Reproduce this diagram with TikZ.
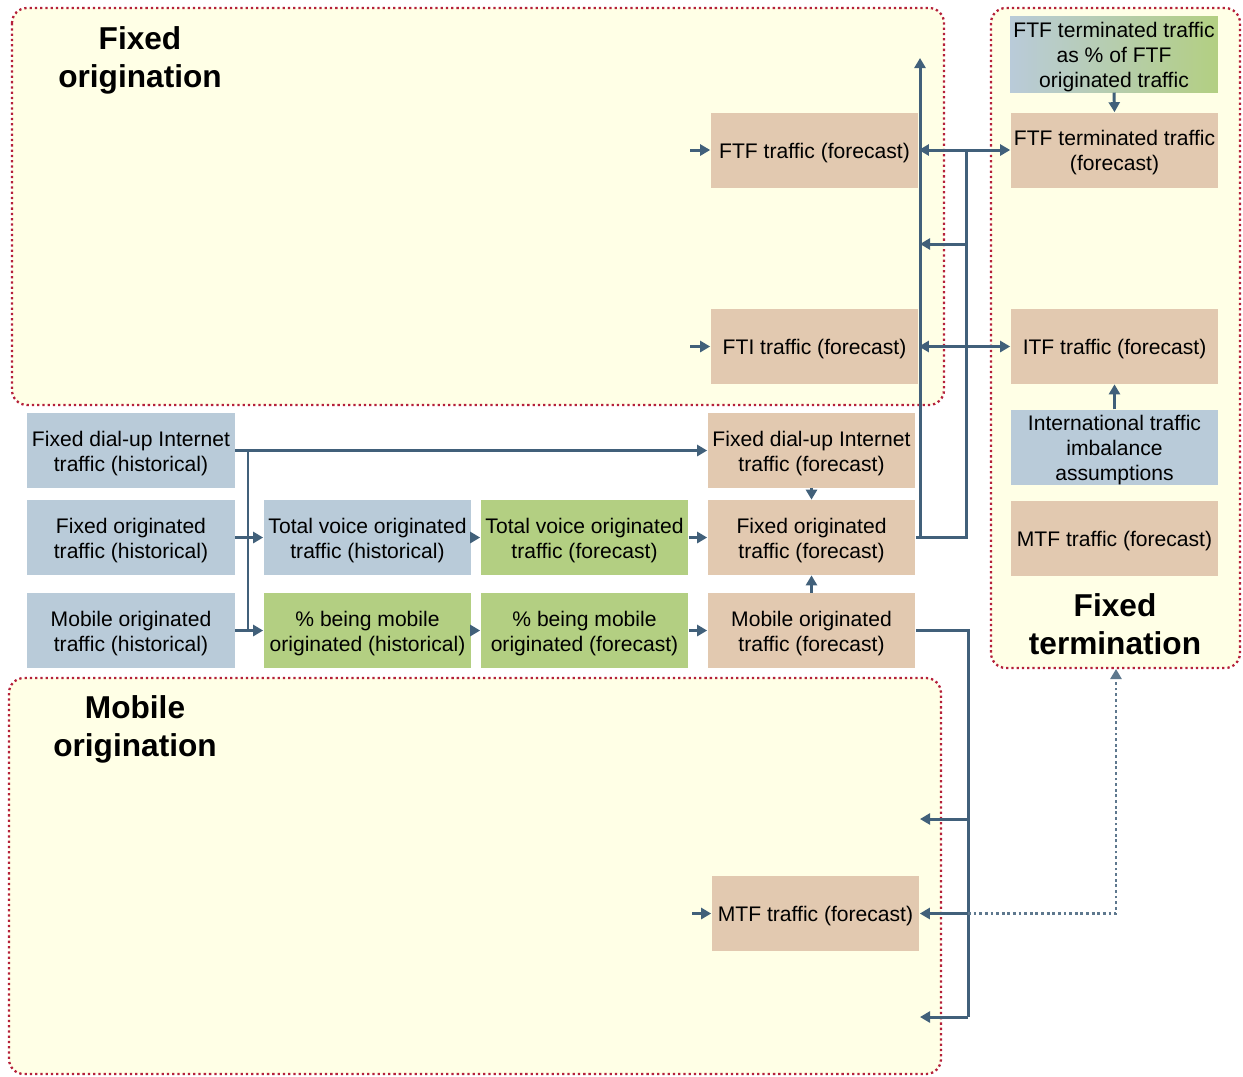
\documentclass[tikz,border=0pt]{standalone}
\usepackage{fontspec}
\setmainfont{Liberation Sans}
\usetikzlibrary{arrows.meta}

\definecolor{regionfill}{HTML}{FFFFE6}
\definecolor{regionline}{HTML}{B5203A}
\definecolor{histblue}{HTML}{B9CBD9}
\definecolor{assumgreen}{HTML}{B3CF82}
\definecolor{forecasttan}{HTML}{E2C9B0}
\definecolor{linkcol}{HTML}{41607A}

% strut that gives the first text line a taller ascent
\newcommand{\tstrut}{\rule{0pt}{1.0em}}

\tikzset{
  region/.style={fill=regionfill, draw=regionline, line width=1.3pt,
    dash pattern=on 1.3pt off 1.7pt, rounded corners=0.3cm},
  title/.style={font=\fontsize{18}{21.6}\selectfont\bfseries, align=center},
  box/.style={minimum width=4.16cm, minimum height=1.5cm, inner sep=0pt,
    align=center, font=\fontsize{12}{14.2}\selectfont},
  histbox/.style={box, fill=histblue},
  greenbox/.style={box, fill=assumgreen},
  tanbox/.style={box, fill=forecasttan},
  gradbox/.style={box, left color=histblue, right color=assumgreen},
  link/.style={draw=linkcol, line width=1.7pt},
  conn/.style={link, -{Triangle[length=2mm,width=2.2mm]}},
  dotconn/.style={draw=linkcol!85!white, line width=1.6pt, dash pattern=on 1.6pt off 1.6pt,
    -{Triangle[length=2mm,width=2.2mm]}}
}

\begin{document}
\begin{tikzpicture}[x=0.02cm, y=-0.02cm]
\useasboundingbox (0,0) rectangle (1243,1076);

% grouping regions
\draw[region] (12,8) rectangle (944,405);
\draw[region] (991,8) rectangle (1240,668);
\draw[region] (9,678) rectangle (941,1074);

\node[title] (tfo) at (140,60) {Fixed\\origination};
\node[title] (tft) at (1115,624) {Fixed\\termination};
\node[title] (tmo) at (135,729) {Mobile\\origination};

% historical inputs
\node[histbox] (fdh) at (131,450.5) {\tstrut Fixed dial-up Internet\\traffic (historical)};
\node[histbox] (foh) at (131,537.5) {\tstrut Fixed originated\\traffic (historical)};
\node[histbox] (moh) at (131,630.5) {\tstrut Mobile originated\\traffic (historical)};
\node[histbox] (tvh) at (367.5,537.5) {\tstrut Total voice originated\\traffic (historical)};
\node[greenbox] (pmh) at (367.5,630.5) {\tstrut\% being mobile\\originated (historical)};
\node[greenbox] (tvf) at (584.5,537.5) {\tstrut Total voice originated\\traffic (forecast)};
\node[greenbox] (pmf) at (584.5,630.5) {\tstrut\% being mobile\\originated (forecast)};

% forecasts
\node[tanbox] (fdf) at (811.5,450.5) {\tstrut Fixed dial-up Internet\\traffic (forecast)};
\node[tanbox] (fof) at (811.5,537.5) {\tstrut Fixed originated\\traffic (forecast)};
\node[tanbox] (mof) at (811.5,630.5) {\tstrut Mobile originated\\traffic (forecast)};
\node[tanbox] (ftf) at (814.5,150) {\tstrut FTF traffic (forecast)};
\node[tanbox] (fti) at (814.5,346.5) {\tstrut FTI traffic (forecast)};
\node[tanbox] (mtf) at (815.5,913.5) {\tstrut MTF traffic (forecast)};

% termination side
\node[gradbox] (ftp) at (1114,54.5) {\tstrut FTF terminated traffic\\as \% of FTF\\originated traffic};
\node[tanbox] (ftt) at (1114.5,150) {\tstrut FTF terminated traffic\\(forecast)};
\node[tanbox] (itf) at (1114.5,346.5) {\tstrut ITF traffic (forecast)};
\node[histbox] (iti) at (1114.5,447.5) {\tstrut International traffic\\imbalance\\assumptions};
\node[tanbox] (mtt) at (1114.5,538.5) {\tstrut MTF traffic (forecast)};

% junction points
\coordinate (busT) at (248,450.5);
\coordinate (busB) at (248,630.5);
\coordinate (upT) at (920,58);
\coordinate (r1) at (966,150);
\coordinate (r2) at (966,244);
\coordinate (l2) at (920,244);
\coordinate (r3) at (966,346.5);
\coordinate (m0) at (968,1017);
\coordinate (m1) at (968,819);
\coordinate (n1) at (920,819);
\coordinate (m2) at (968,913.5);
\coordinate (n3) at (920,1017);
\coordinate (ftTip) at (1116,669);
\coordinate (s1) at (690,150);
\coordinate (s2) at (690,346.5);
\coordinate (s3) at (692,913.5);

% historical to forecast chain
\draw[conn] (fdh.east) -- (fdf.west);
\draw[link] (busT) -- (busB);
\draw[conn] (foh.east) -- (tvh.west);
\draw[conn] (moh.east) -- (pmh.west);
\draw[conn] (tvh.east) -- (tvf.west);
\draw[conn] (pmh.east) -- (pmf.west);
\draw[conn] (tvf.east) -- (fof.west);
\draw[conn] (pmf.east) -- (mof.west);
\draw[conn] (fdf.south) -- (fof.north);
\draw[conn] (mof.north) -- (fof.south);

% fixed originated feeds
\draw[conn] (fof.east) -| (upT);
\draw[link] (fof.east) -| (r1);
\draw[conn] (r1) -- (ftf.east);
\draw[conn] (r1) -- (ftt.west);
\draw[conn] (r2) -- (l2);
\draw[conn] (r3) -- (fti.east);
\draw[conn] (r3) -- (itf.west);
\draw[conn] (s1) -- (ftf.west);
\draw[conn] (s2) -- (fti.west);

% mobile originated feeds
\draw[link] (mof.east) -| (m0);
\draw[conn] (m1) -- (n1);
\draw[conn] (m2) -- (mtf.east);
\draw[conn] (m0) -- (n3);
\draw[conn] (s3) -- (mtf.west);
\draw[dotconn] (m2) -| (ftTip);

% termination inputs
\draw[conn] (ftp.south) -- (ftt.north);
\draw[conn] (iti.north) -- (itf.south);
\end{tikzpicture}
\end{document}
